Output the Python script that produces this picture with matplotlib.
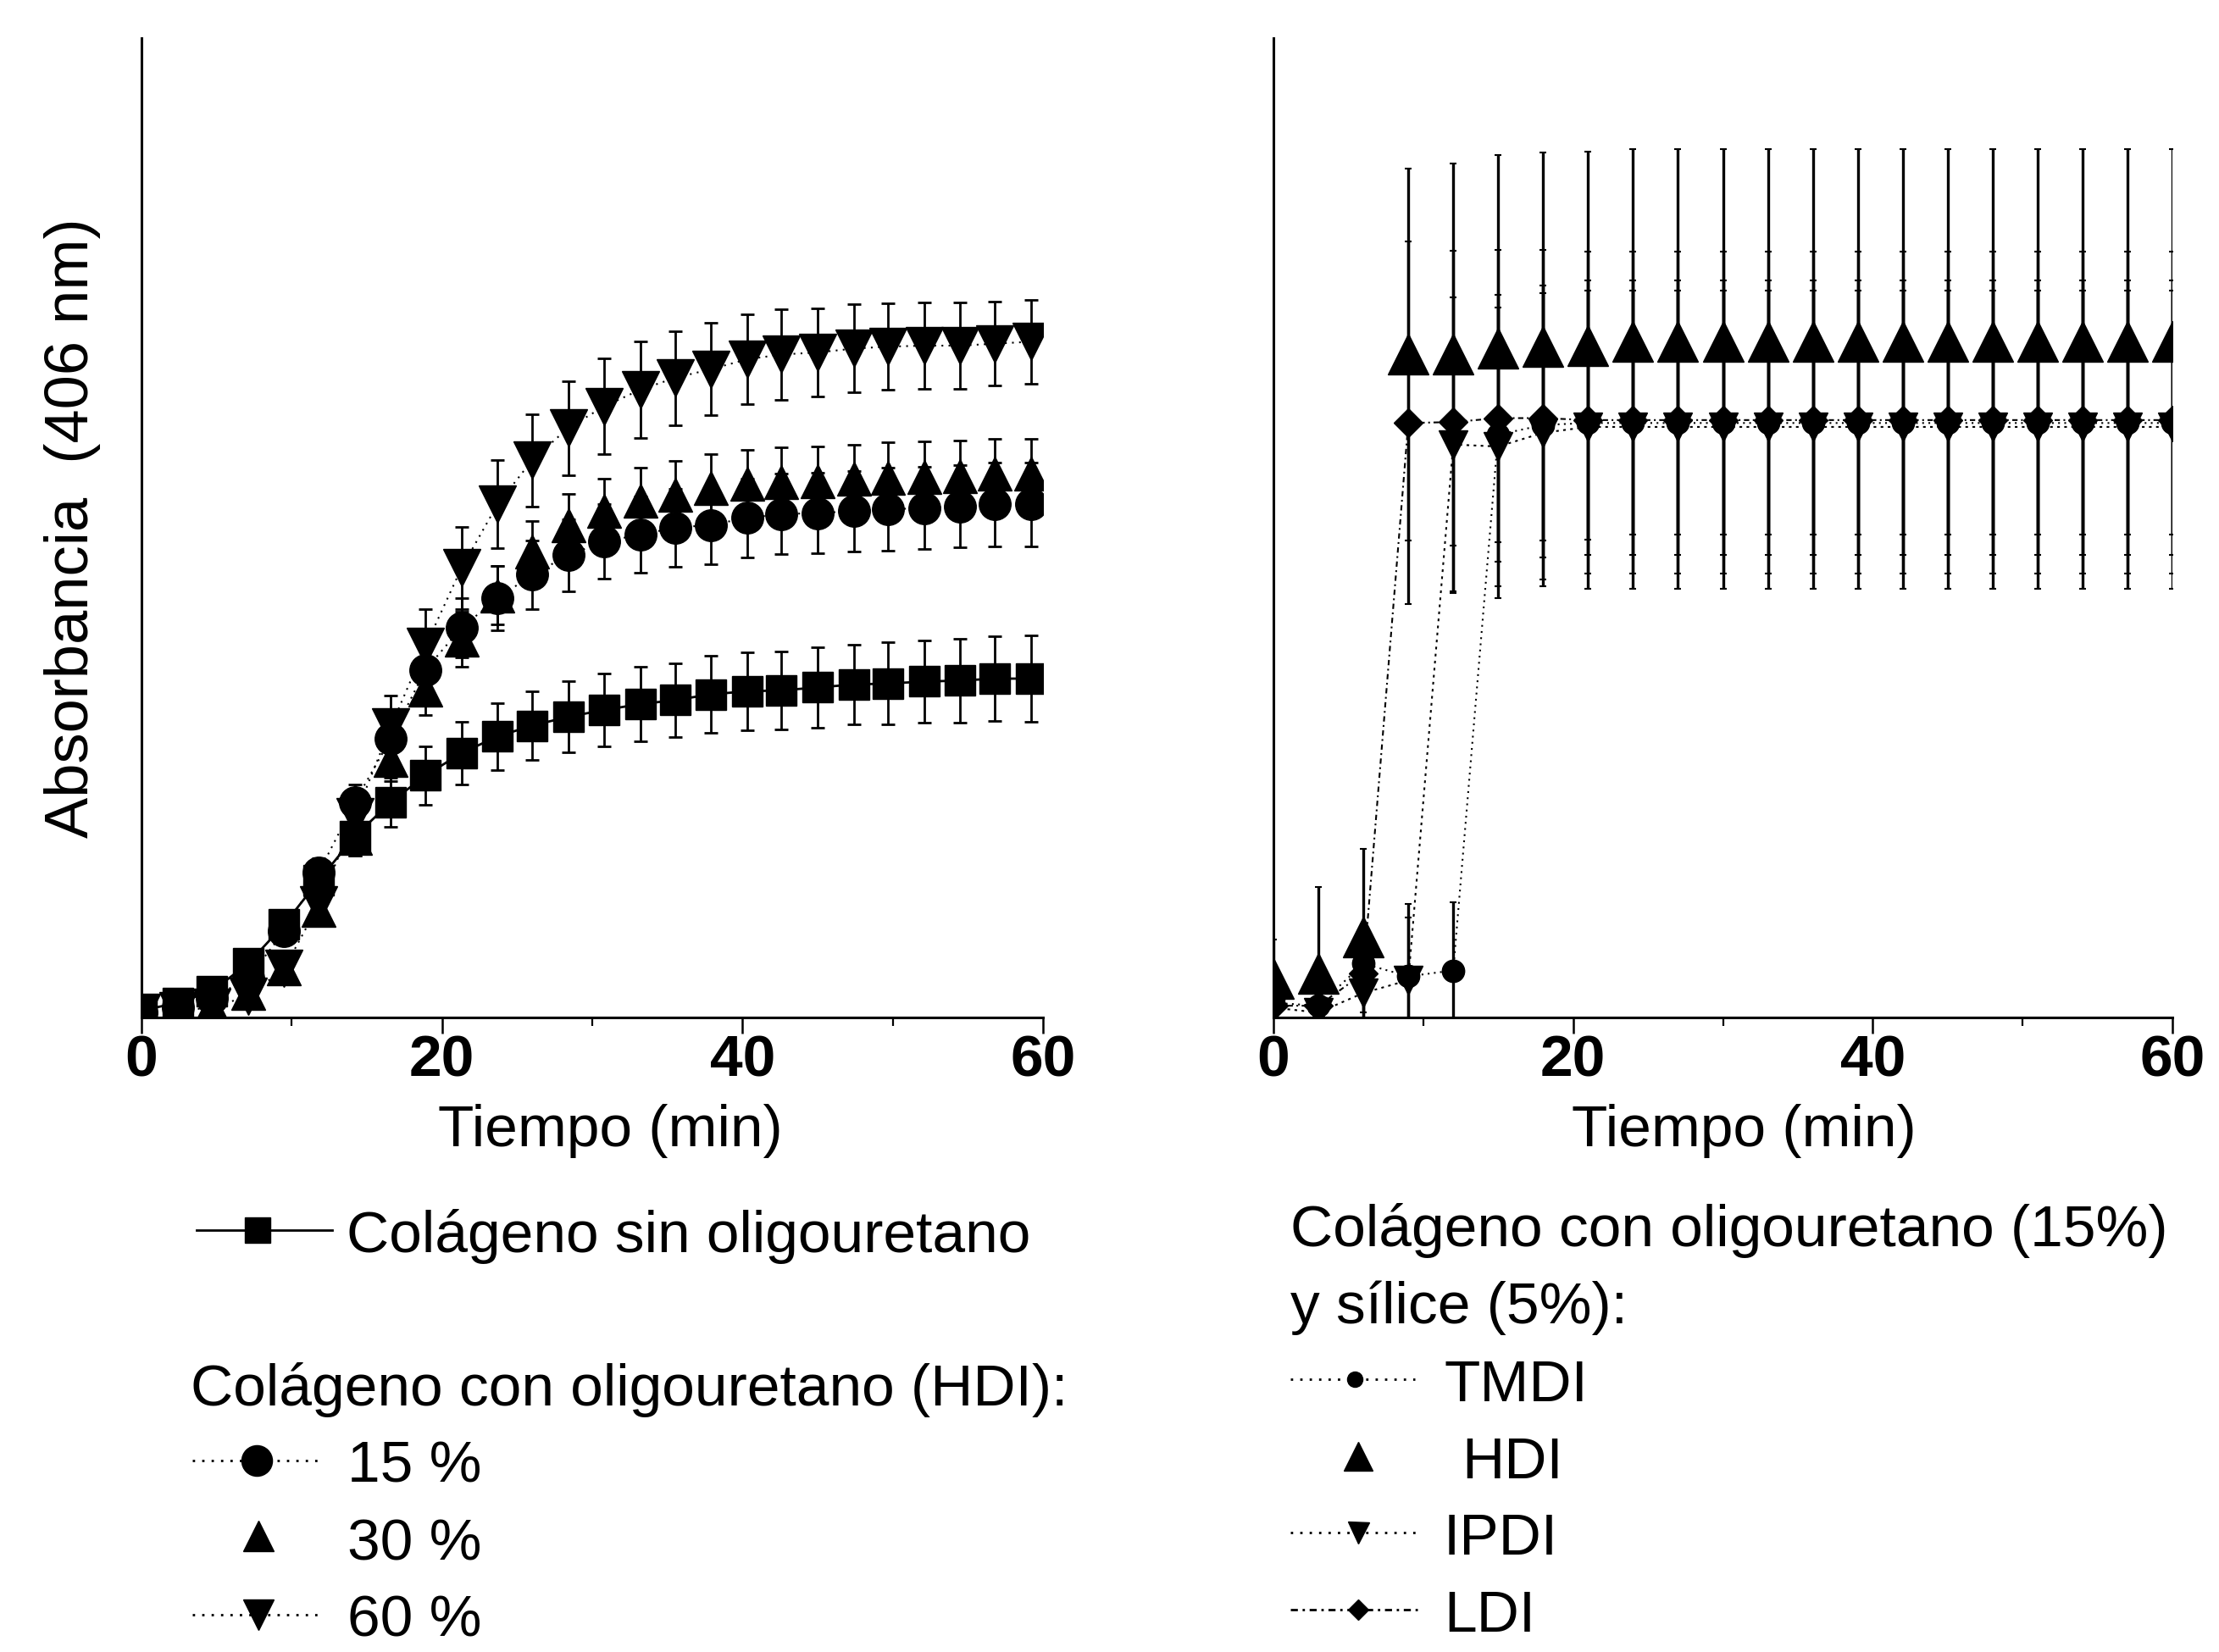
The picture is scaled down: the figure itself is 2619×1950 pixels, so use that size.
import matplotlib
matplotlib.use("Agg")
import matplotlib.pyplot as plt

plt.rcParams['font.family'] = ['Liberation Sans', 'DejaVu Sans']

# ---------------- data (left panel: HDI, different oligourethane contents) ----------------
t_left = [0.0, 2.4, 4.7, 7.1, 9.5, 11.8, 14.2, 16.6, 18.9, 21.3, 23.7, 26.0, 28.4,
          30.8, 33.2, 35.5, 37.9, 40.3, 42.6, 45.0, 47.4, 49.7, 52.1, 54.5, 56.8, 59.2]
control = [0.007, 0.015, 0.027, 0.055, 0.095, 0.140, 0.185, 0.220, 0.247, 0.270, 0.287, 0.298, 0.307,
           0.314, 0.320, 0.324, 0.330, 0.333, 0.334, 0.337, 0.340, 0.341, 0.343, 0.344, 0.346, 0.346]
control_err = [0.004, 0.006, 0.008, 0.010, 0.012, 0.016, 0.020, 0.025, 0.030, 0.032, 0.034, 0.035, 0.036,
               0.037, 0.038, 0.038, 0.039, 0.040, 0.040, 0.041, 0.041, 0.042, 0.042, 0.043, 0.043, 0.044]
c15 = [0.005, 0.010, 0.020, 0.040, 0.088, 0.148, 0.220, 0.285, 0.355, 0.398, 0.428, 0.452, 0.472,
       0.486, 0.493, 0.500, 0.503, 0.510, 0.514, 0.515, 0.517, 0.519, 0.520, 0.522, 0.524, 0.524]
c15_err = [0.004, 0.006, 0.008, 0.010, 0.012, 0.015, 0.018, 0.022, 0.026, 0.030, 0.033, 0.035, 0.037,
           0.038, 0.039, 0.040, 0.040, 0.040, 0.041, 0.041, 0.041, 0.042, 0.042, 0.042, 0.043, 0.043]
c30 = [0.005, 0.008, 0.012, 0.025, 0.050, 0.110, 0.183, 0.263, 0.335, 0.386, 0.431, 0.476, 0.503,
       0.517, 0.528, 0.534, 0.541, 0.545, 0.547, 0.548, 0.550, 0.551, 0.552, 0.553, 0.555, 0.555]
c30_err = [0.004, 0.005, 0.007, 0.009, 0.011, 0.014, 0.018, 0.022, 0.026, 0.028, 0.030, 0.031, 0.032,
           0.033, 0.033, 0.034, 0.034, 0.035, 0.035, 0.035, 0.035, 0.036, 0.036, 0.036, 0.036, 0.036]
c60 = [0.005, 0.007, 0.010, 0.022, 0.050, 0.115, 0.205, 0.297, 0.379, 0.459, 0.524, 0.569, 0.602,
       0.624, 0.641, 0.653, 0.662, 0.672, 0.677, 0.679, 0.683, 0.685, 0.686, 0.686, 0.688, 0.690]
c60_err = [0.004, 0.005, 0.007, 0.010, 0.014, 0.020, 0.026, 0.032, 0.038, 0.042, 0.045, 0.047, 0.048,
           0.049, 0.049, 0.048, 0.047, 0.046, 0.046, 0.045, 0.045, 0.044, 0.044, 0.044, 0.043, 0.043]

# ---------------- data (right panel: 15 % oligourethane + 5 % silica) ----------------
t_right = [0, 3, 6, 9, 12, 15, 18, 21, 24, 27, 30, 33, 36, 39, 42, 45, 48, 51, 54, 57, 60]
tmdi = [0.015, 0.012, 0.055, 0.042, 0.048, 0.595, 0.605, 0.607, 0.607, 0.607, 0.607, 0.607, 0.607,
        0.607, 0.607, 0.607, 0.607, 0.607, 0.607, 0.607, 0.607]
tmdi_err = [0.010, 0.010, 0.030, 0.060, 0.070, 0.130, 0.135, 0.135, 0.135, 0.135, 0.135, 0.135, 0.135,
            0.135, 0.135, 0.135, 0.135, 0.135, 0.135, 0.135, 0.135]
hdi = [0.040, 0.045, 0.082, 0.677, 0.677, 0.683, 0.685, 0.686, 0.690, 0.690, 0.690, 0.690, 0.690,
       0.690, 0.690, 0.690, 0.690, 0.690, 0.690, 0.690, 0.690]
hdi_err = [0.040, 0.088, 0.090, 0.190, 0.195, 0.198, 0.198, 0.198, 0.197, 0.197, 0.197, 0.197, 0.197,
           0.197, 0.197, 0.197, 0.197, 0.197, 0.197, 0.197, 0.197]
ipdi = [0.010, 0.005, 0.025, 0.038, 0.585, 0.583, 0.597, 0.603, 0.603, 0.603, 0.603, 0.603, 0.603,
        0.603, 0.603, 0.603, 0.603, 0.603, 0.603, 0.603, 0.603]
ipdi_err = [0.010, 0.010, 0.020, 0.078, 0.150, 0.155, 0.150, 0.150, 0.150, 0.150, 0.150, 0.150, 0.150,
            0.150, 0.150, 0.150, 0.150, 0.150, 0.150, 0.150, 0.150]
ldi = [0.012, 0.012, 0.045, 0.607, 0.608, 0.612, 0.612, 0.610, 0.610, 0.610, 0.610, 0.610, 0.610,
       0.610, 0.610, 0.610, 0.610, 0.610, 0.610, 0.610, 0.610]
ldi_err = [0.010, 0.010, 0.050, 0.185, 0.175, 0.172, 0.172, 0.172, 0.172, 0.172, 0.172, 0.172, 0.172,
           0.172, 0.172, 0.172, 0.172, 0.172, 0.172, 0.172, 0.172]

x_major = [0, 20, 40, 60]
x_minor = [10, 30, 50]
x_labels = ['0', '20', '40', '60']
xlabel_text = 'Tiempo (min)'
ylabel_text = 'Absorbancia  (406 nm)'

left_legend_texts = ['Colágeno sin oligouretano', 'Colágeno con oligouretano (HDI):', '15 %', '30 %', '60 %']
right_legend_texts = ['Colágeno con oligouretano (15%)', 'y sílice (5%):', 'TMDI', 'HDI', 'IPDI', 'LDI']

# ---------------- figure ----------------
W, H = 2619, 1950
fig = plt.figure(figsize=(W / 100, H / 100), dpi=100)
fig.patch.set_facecolor('white')


def rect(x0, x1, y0, y1):
    return [x0 / W, 1 - y1 / H, (x1 - x0) / W, (y1 - y0) / H]


axL = fig.add_axes(rect(167, 1231, 45, 1201))
axR = fig.add_axes(rect(1503, 2564, 45, 1201))

FS = 50


def style(ax, xlab_x):
    ax.set_xlim(0, 60)
    ax.set_ylim(0, 1)
    for s in ['top', 'right']:
        ax.spines[s].set_visible(False)
    for s in ['left', 'bottom']:
        ax.spines[s].set_linewidth(2.2)
    ax.set_xticks(x_major)
    ax.set_xticklabels(x_labels, fontsize=FS, fontweight='bold')
    ax.set_xticks(x_minor, minor=True)
    ax.set_yticks([])
    ax.tick_params(axis='x', which='major', direction='out', length=14, width=1.8, pad=0)
    ax.tick_params(axis='x', which='minor', direction='out', length=7, width=1.6)
    ax.set_xlabel(xlabel_text, fontsize=FS)
    ax.xaxis.label.set_va('baseline')
    ax.xaxis.set_label_coords(xlab_x, (1201 - 1353) / 1156)


style(axL, 0.52)
style(axR, 0.523)
axL.set_ylabel(ylabel_text, fontsize=52)
axL.yaxis.label.set_va('center')
axL.yaxis.set_label_coords((86 - 167) / 1064, 0.5)

# ---- left panel ----
eb = dict(color='k', ecolor='k', elinewidth=2.0, capsize=6, capthick=2.0)
axL.errorbar(t_left, c15, yerr=c15_err, marker='o', ms=27, linestyle=(0, (1, 3)), lw=1.5, **eb)
axL.errorbar(t_left, c30, yerr=c30_err, marker='^', ms=29, linestyle='none', **eb)
axL.errorbar(t_left, c60, yerr=c60_err, marker='v', ms=31, linestyle=(0, (1, 3)), lw=1.5, **eb)
axL.errorbar(t_left, control, yerr=control_err, marker='s', ms=26, linestyle='-', lw=2.0, **eb)

# ---- right panel ----
ebR = dict(color='k', ecolor='k', elinewidth=2.4, capsize=3, capthick=1.5)
axR.errorbar(t_right, tmdi, yerr=tmdi_err, marker='o', ms=19, linestyle=(0, (1, 2.5)), lw=1.5, **ebR)
axR.errorbar(t_right, ipdi, yerr=ipdi_err, marker='v', ms=24, linestyle=(0, (1.5, 2.5)), lw=1.5, **ebR)
axR.errorbar(t_right, ldi, yerr=ldi_err, marker='D', ms=17, linestyle=(0, (3, 2, 1, 2)), lw=1.5, **ebR)
axR.errorbar(t_right, hdi, yerr=hdi_err, marker='^', ms=34, linestyle='none', **ebR)

# ---------------- legends (drawn in a pixel-coordinate overlay) ----------------
lg = fig.add_axes([0, 0, 1, 1])
lg.set_xlim(0, W)
lg.set_ylim(H, 0)
lg.axis('off')

dots = (0, (1, 3))
# left legend
lg.plot([232, 392], [1452, 1452], '-', color='k', lw=2)
lg.plot([304], [1452], 's', color='k', ms=22)
lg.text(409, 1478, left_legend_texts[0], fontsize=FS, va='baseline', ha='left')
lg.text(225, 1659, left_legend_texts[1], fontsize=FS, va='baseline', ha='left')
lg.plot([227, 375], [1724, 1724], linestyle=dots, color='k', lw=2)
lg.plot([303], [1724], 'o', color='k', ms=26)
lg.text(410, 1750, left_legend_texts[2], fontsize=FS, va='baseline', ha='left')
lg.plot([305], [1813], '^', color='k', ms=26)
lg.text(410, 1841, left_legend_texts[3], fontsize=FS, va='baseline', ha='left')
lg.plot([227, 375], [1906], linestyle=dots, color='k', lw=2) if False else None
lg.plot([227, 375], [1906, 1906], linestyle=dots, color='k', lw=2)
lg.plot([305], [1906], 'v', color='k', ms=26)
lg.text(410, 1932, left_legend_texts[4], fontsize=FS, va='baseline', ha='left')

# right legend
lg.text(1523, 1471, right_legend_texts[0], fontsize=FS, va='baseline', ha='left')
lg.text(1523, 1562, right_legend_texts[1], fontsize=FS, va='baseline', ha='left')
lg.plot([1523, 1670], [1628, 1628], linestyle=dots, color='k', lw=2)
lg.plot([1599], [1628], 'o', color='k', ms=13)
lg.text(1704, 1654, right_legend_texts[2], fontsize=FS, va='baseline', ha='left')
lg.plot([1603], [1719], '^', color='k', ms=24)
lg.text(1725, 1745, right_legend_texts[3], fontsize=FS, va='baseline', ha='left')
lg.plot([1523, 1678], [1809, 1809], linestyle=dots, color='k', lw=2)
lg.plot([1603], [1809], 'v', color='k', ms=18)
lg.text(1704, 1835, right_legend_texts[4], fontsize=FS, va='baseline', ha='left')
lg.plot([1523, 1678], [1900, 1900], linestyle=(0, (3, 2, 1, 2)), color='k', lw=2)
lg.plot([1603], [1900], 'D', color='k', ms=12)
lg.text(1704, 1926, right_legend_texts[5], fontsize=FS, va='baseline', ha='left')

fig.savefig('out.png', dpi=100, facecolor='white')
